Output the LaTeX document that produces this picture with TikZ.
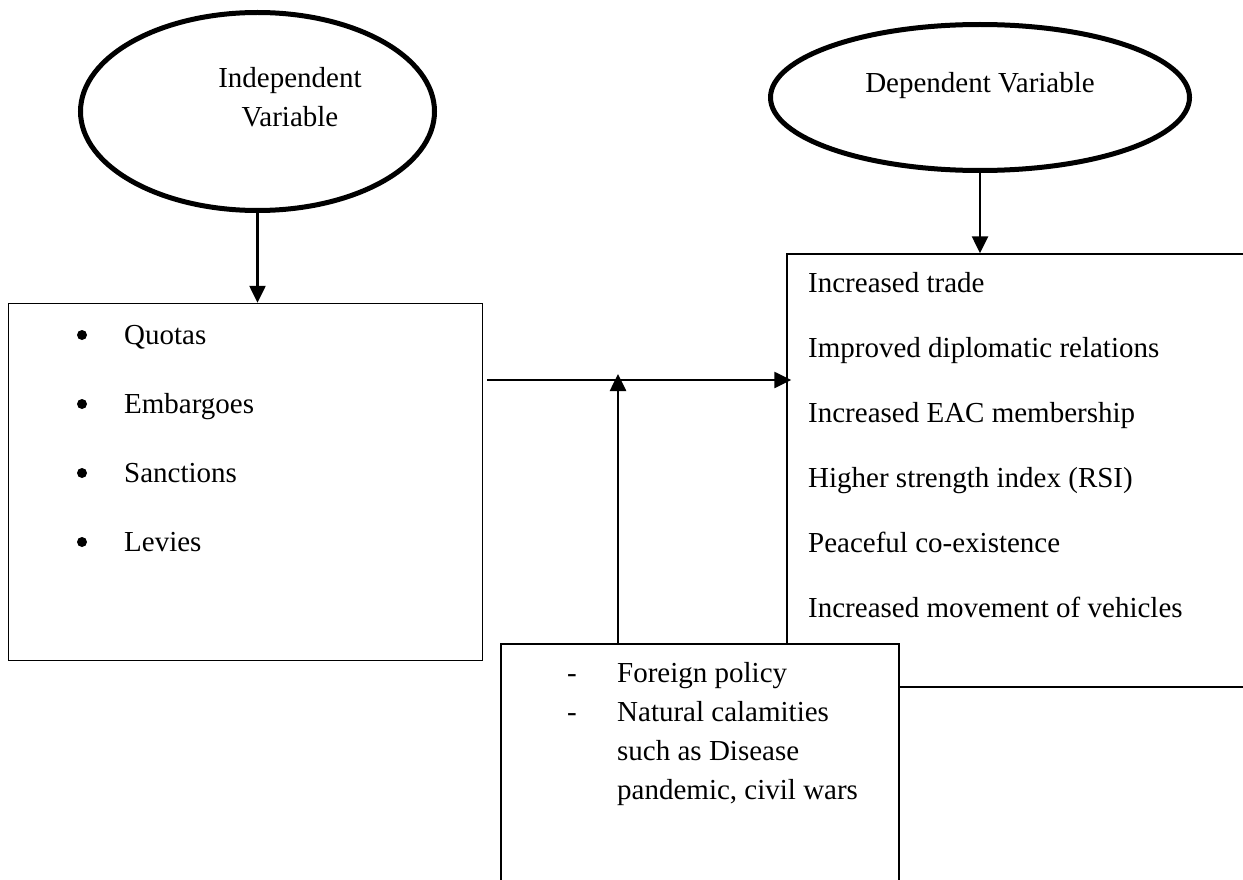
\documentclass[tikz,border=0pt]{standalone}
\usepackage{fontspec}
\setmainfont{Liberation Serif}
\usetikzlibrary{shapes.geometric,arrows.meta}
\begin{document}
\begin{tikzpicture}[x=1pt,y=-1pt,
  oval/.style={draw,ellipse,line width=5pt,inner sep=0pt},
  box/.style={draw,rectangle,line width=1.5pt,inner sep=0pt,fill=white},
  txt/.style={anchor=base west,inner sep=0pt,font=\fontsize{29}{34}\selectfont},
  mid/.style={anchor=base,inner sep=0pt,font=\fontsize{29}{34}\selectfont},
  dot/.style={circle,fill,inner sep=0pt,minimum size=10pt},
  arr/.style={line width=2.6pt,-{Triangle[length=17pt,width=16pt]}}]
\useasboundingbox (0,0) rectangle (1243,880);
\fill[white] (0,0) rectangle (1243,880);
% ellipses
\node[oval,minimum width=354pt,minimum height=198pt] (iv) at (257.5,111.5) {};
\node[mid] (ivt1) at (290,88) {Independent};
\node[mid] (ivt2) at (290,127) {Variable};
\node[oval,minimum width=419pt,minimum height=146pt] (dv) at (980,97.5) {};
\node[mid] (dvt) at (980,93) {Dependent Variable};
% boxes
\node[box,minimum width=474pt,minimum height=357pt] (lbox) at (245.5,482) {};
\node[box,minimum width=463pt,minimum height=433pt] (rbox) at (1018.5,470.5) {};
% left list
\node[dot] (b1) at (82,335) {};
\node[dot] (b2) at (82,404) {};
\node[dot] (b3) at (82,473) {};
\node[dot] (b4) at (82,542) {};
\node[txt] (l1) at (124,344) {Quotas};
\node[txt] (l2) at (124,413) {Embargoes};
\node[txt] (l3) at (124,482) {Sanctions};
\node[txt] (l4) at (124,551) {Levies};
% right list
\node[txt] (r1) at (808,292) {Increased trade};
\node[txt] (r2) at (808,357) {Improved diplomatic relations};
\node[txt] (r3) at (808,422) {Increased EAC membership};
\node[txt] (r4) at (808,487) {Higher strength index (RSI)};
\node[txt] (r5) at (808,552) {Peaceful co-existence};
\node[txt] (r6) at (808,617) {Increased movement of vehicles};
% arrows from ellipses
\draw[arr] (iv.south) -- (lbox.north -| iv.south);
\draw[arr] (dv.south) -- (dv.south |- rbox.north);
% horizontal arrow
\coordinate (hs) at (487,380);
\draw[arr,shorten >=-5pt] (hs) -- (rbox.west |- hs);
% bottom box
\node[box,minimum width=398pt,minimum height=256pt] (bbox) at (700,772) {};
\node[mid] (d1) at (572,682) {-};
\node[mid] (d2) at (572,721) {-};
\node[txt] (m1) at (617,682) {Foreign policy};
\node[txt] (m2) at (617,721) {Natural calamities};
\node[txt] (m3) at (617,760) {such as Disease};
\node[txt] (m4) at (617,799) {pandemic, civil wars};
% vertical arrow
\coordinate (vt) at (618,374);
\draw[arr] (vt |- bbox.north) -- (vt);
\end{tikzpicture}
\end{document}
